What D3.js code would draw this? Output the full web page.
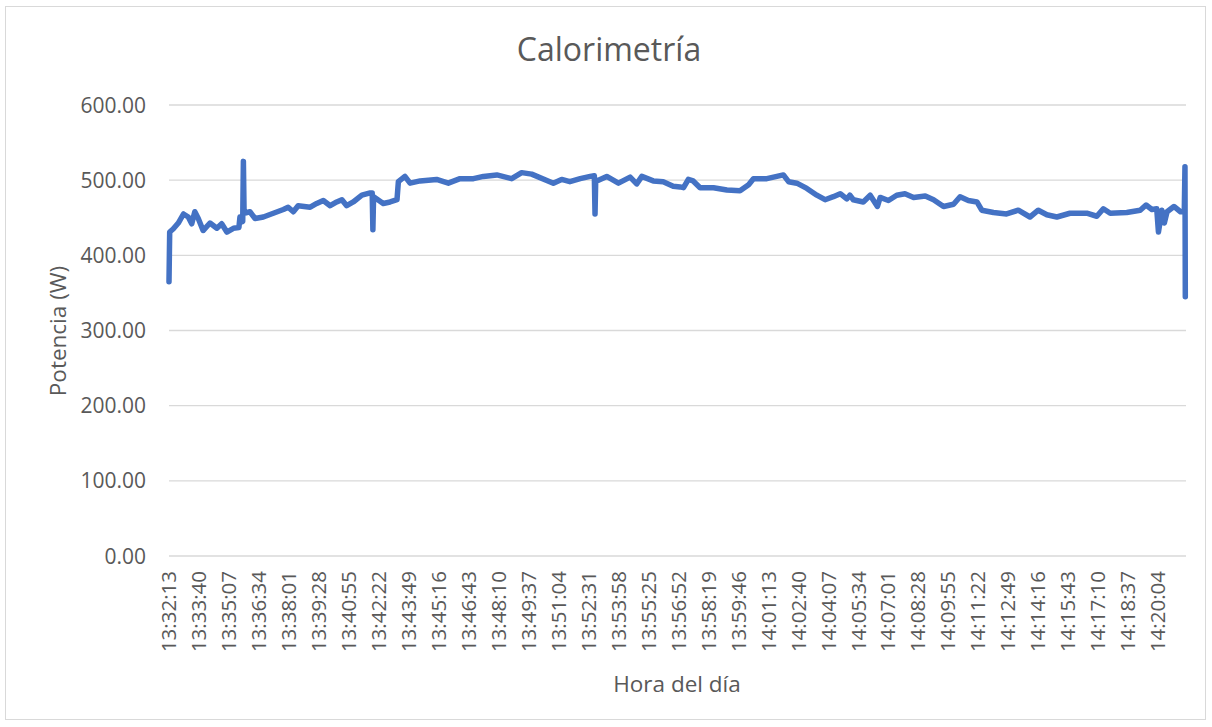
<!DOCTYPE html>
<meta charset="utf-8">
<style>
body { margin: 0; background: #fff; }
text { font-family: "Open Sans", sans-serif; fill: #595959; }
.grid line { stroke: #d9d9d9; stroke-width: 1.3px; }
</style>
<body>
<script src="https://d3js.org/d3.v7.min.js"></script>
<script>
// segundos desde las 13:32:13 y potencia (W)
var segundos = [0, 2, 12, 27, 42, 56, 66, 75, 85, 99, 119, 139, 153, 168, 187, 203, 206,
  214, 216, 218, 235, 250, 274, 303, 332, 346, 361, 375, 410, 429, 448, 468, 487, 502,
  516, 535, 560, 584, 590, 592, 594, 622, 642, 662, 666, 685, 700, 729, 777, 811, 845,
  884, 913, 952, 995, 1024, 1053, 1116, 1140, 1164, 1194, 1223, 1235, 1237, 1239, 1247,
  1271, 1305, 1339, 1358, 1373, 1406, 1435, 1464, 1484, 1494, 1508, 1522, 1542, 1581,
  1620, 1658, 1683, 1697, 1736, 1765, 1784, 1799, 1823, 1852, 1881, 1905, 1929, 1949,
  1968, 1977, 1987, 2016, 2036, 2057, 2065, 2089, 2113, 2137, 2162, 2196, 2220, 2249,
  2278, 2297, 2321, 2346, 2360, 2394, 2432, 2466, 2500, 2524, 2549, 2578, 2616, 2665,
  2694, 2713, 2733, 2781, 2820, 2837, 2854, 2868, 2873, 2883, 2890, 2898, 2918, 2937,
  2948, 2950, 2951];

var potencia = [365, 431, 435, 443, 455, 451, 442, 458, 449, 433, 443, 436, 442, 431, 436, 437, 451,
  445, 525, 456, 458, 449, 451, 456, 461, 464, 458, 466, 464, 469, 473, 466, 471, 474,
  466, 471, 480, 483, 483, 434, 478, 469, 471, 474, 498, 505, 496, 499, 501, 496, 502,
  502, 505, 507, 502, 510, 508, 496, 501, 498, 502, 505, 506, 455, 500, 500,
  505, 496, 504, 495, 505, 499, 498, 492, 491, 490, 501, 499, 490, 490,
  487, 486, 494, 502, 502, 505, 507, 498, 496, 489, 480, 474, 478, 482,
  475, 480, 474, 471, 480, 465, 477, 473, 480, 482, 477, 479, 474, 465,
  468, 478, 473, 471, 460, 457, 455, 460, 451, 460, 454, 451, 456, 456,
  452, 462, 456, 457, 460, 467, 461, 462, 431, 460, 443, 458, 465, 458,
  458, 518, 345];

var yTicks = [0, 100, 200, 300, 400, 500, 600];
var inicio = 13 * 3600 + 32 * 60 + 13;   // 13:32:13
var paso = 87;                           // una etiqueta cada 87 s
var xTicks = d3.range(0, 34).map(function(i) { return i * paso; });

var width = 1212, height = 727;
var x0 = 169, x1 = 1186, yTop = 105, yBot = 556;

var svg = d3.select("body").append("svg")
    .attr("width", width)
    .attr("height", height);

svg.append("rect")
    .attr("x", 5.5).attr("y", 6.5)
    .attr("width", 1200).attr("height", 713)
    .attr("fill", "#fff")
    .attr("stroke", "#d9d9d9");

var x = d3.scaleLinear().domain([0, 2953]).range([x0, x1]);
var y = d3.scaleLinear().domain([0, 600]).range([yBot, yTop]);

function hora(s) {
  var t = inicio + s;
  var h = Math.floor(t / 3600), m = Math.floor(t % 3600 / 60), sec = t % 60;
  return h + ":" + d3.format("02")(m) + ":" + d3.format("02")(sec);
}

// grid
svg.append("g").attr("class", "grid")
  .selectAll("line")
  .data(yTicks)
  .join("line")
    .attr("x1", x0).attr("x2", x1)
    .attr("y1", function(d) { return y(d); })
    .attr("y2", function(d) { return y(d); });

// y labels
svg.append("g")
  .selectAll("text")
  .data(yTicks)
  .join("text")
    .attr("x", 146)
    .attr("y", function(d) { return y(d); })
    .attr("dy", "0.36em")
    .attr("text-anchor", "end")
    .style("font-size", "21px")
    .text(function(d) { return d3.format(".2f")(d); });

// x labels
svg.append("g")
  .selectAll("text")
  .data(xTicks)
  .join("text")
    .attr("transform", function(d) { return "translate(" + x(d) + ",571) rotate(-90)"; })
    .attr("dy", "0.36em")
    .attr("text-anchor", "end")
    .style("font-size", "20.5px")
    .text(hora);

var line = d3.line()
    .x(function(d, i) { return x(segundos[i]); })
    .y(function(d) { return y(d); });

svg.append("path")
    .datum(potencia)
    .attr("d", line)
    .attr("fill", "none")
    .attr("stroke", "#4472c4")
    .attr("stroke-width", 5.5)
    .attr("stroke-linejoin", "round")
    .attr("stroke-linecap", "round");

svg.append("text")
    .attr("x", 609).attr("y", 61)
    .attr("text-anchor", "middle")
    .style("font-size", "32px")
    .text("Calorimetría");

svg.append("text")
    .attr("x", 677).attr("y", 692)
    .attr("text-anchor", "middle")
    .style("font-size", "22.5px")
    .text("Hora del día");

svg.append("text")
    .attr("transform", "translate(66,331) rotate(-90)")
    .attr("text-anchor", "middle")
    .style("font-size", "22.5px")
    .text("Potencia (W)");
</script>
</body>
</html>
